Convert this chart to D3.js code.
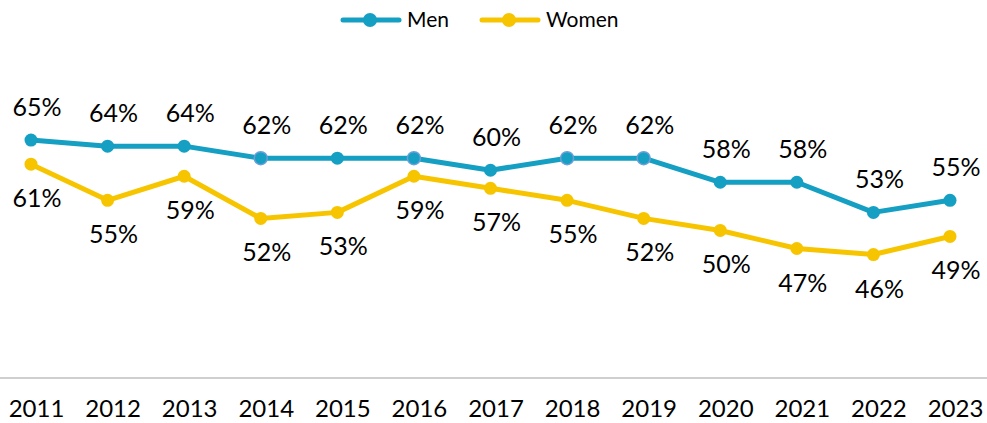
<!DOCTYPE html>
<html>
<head>
<meta charset="utf-8">
<script src="https://cdn.jsdelivr.net/npm/d3@7"></script>
<style>
  body { margin: 0; background: #fff; }
  text { font-family: Lato, "Open Sans", sans-serif; fill: #000; }
</style>
</head>
<body>
<div id="chart"></div>
<script>
// Chart data
const years = ["2011", "2012", "2013", "2014", "2015", "2016", "2017", "2018", "2019", "2020", "2021", "2022", "2023"];
const men = [65, 64, 64, 62, 62, 62, 60, 62, 62, 58, 58, 53, 55];
const women = [61, 55, 59, 52, 53, 59, 57, 55, 52, 50, 47, 46, 49];
// markers drawn with a light outline in the original
const menOutlined = ["2014", "2016", "2018", "2019"];

const width = 987, height = 423;
const axisY = 378;

const svg = d3.select("#chart")
    .append("svg")
    .attr("width", width)
    .attr("height", height);

// Scales
const x = d3.scalePoint()
    .domain(years)
    .range([31, 950]);

const y = d3.scaleLinear()
    .domain([25, 70])
    .range([381, 110]);

// X axis
const xAxis = svg.append("g")
    .attr("transform", `translate(0,${axisY})`)
    .call(d3.axisBottom(x).tickSize(0).tickPadding(0));
xAxis.select(".domain")
    .attr("d", `M0,0H${width}`)
    .attr("stroke", "#bfbfbf")
    .attr("stroke-width", 1.5);
xAxis.selectAll(".tick text")
    .attr("dy", 0)
    .attr("y", 39)
    .attr("x", 5)
    .style("font-size", "24px")
    .style("font-family", "Lato, sans-serif")
    .attr("fill", "#000");

const series = [
    { name: "Men", values: men, color: "#149fc3", labelDy: -24, outlined: menOutlined },
    { name: "Women", values: women, color: "#f7c500", labelDy: 43, outlined: [] }
];

const line = d3.line()
    .x((d, i) => x(years[i]))
    .y(d => y(d));

series.forEach(s => {
    svg.append("path")
        .datum(s.values)
        .attr("fill", "none")
        .attr("stroke", s.color)
        .attr("stroke-width", 5)
        .attr("stroke-linejoin", "round")
        .attr("d", line);

    svg.selectAll(".pt-" + s.name)
        .data(s.values)
        .enter()
        .append("circle")
        .attr("cx", (d, i) => x(years[i]))
        .attr("cy", d => y(d))
        .attr("r", 6.5)
        .attr("fill", s.color)
        .attr("stroke", (d, i) => s.outlined.includes(years[i]) ? "#6a9fd8" : "none")
        .attr("stroke-width", 1.5);

    svg.selectAll(".lbl-" + s.name)
        .data(s.values)
        .enter()
        .append("text")
        .attr("x", (d, i) => x(years[i]) + 6)
        .attr("y", d => y(d) + s.labelDy)
        .attr("text-anchor", "middle")
        .style("font-size", "25px")
        .text(d => d + "%");
});

// Legend
const legend = svg.append("g");
const legendItems = [
    { name: "Men", color: "#149fc3", x: 343 },
    { name: "Women", color: "#f7c500", x: 482 }
];
legendItems.forEach(l => {
    legend.append("line")
        .attr("x1", l.x).attr("x2", l.x + 56)
        .attr("y1", 20).attr("y2", 20)
        .attr("stroke", l.color)
        .attr("stroke-width", 5)
        .attr("stroke-linecap", "round");
    legend.append("circle")
        .attr("cx", l.x + 27).attr("cy", 20)
        .attr("r", 7)
        .attr("fill", l.color);
    legend.append("text")
        .attr("x", l.x + 64).attr("y", 27)
        .style("font-size", "21px")
        .text(l.name);
});
</script>
</body>
</html>
